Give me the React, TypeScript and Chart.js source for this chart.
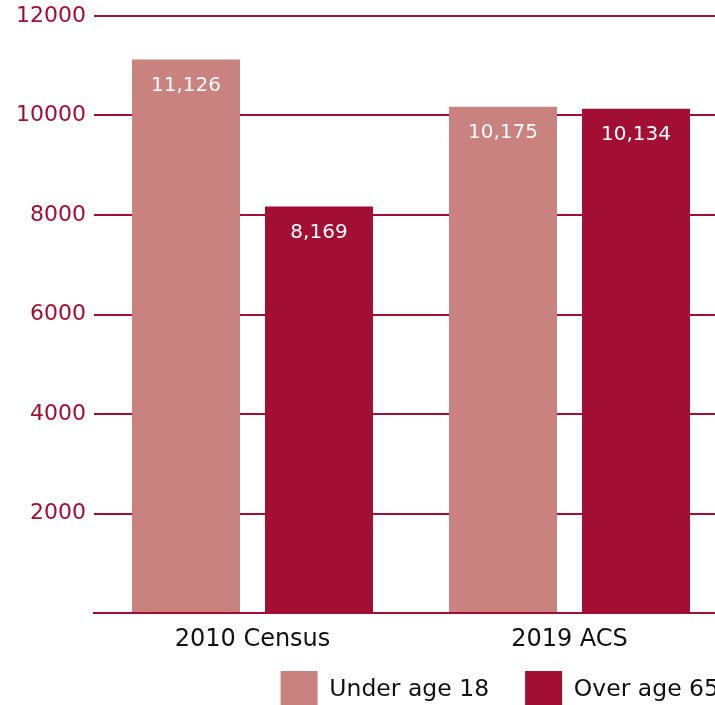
import React, { useEffect, useRef } from "react";
import { Chart, registerables } from "chart.js";

Chart.register(...registerables);

const categories = ["2010 Census", "2019 ACS"];
const seriesNames = ["Under age 18", "Over age 65"];
const underAge18 = [11126, 10175];
const overAge65 = [8169, 10134];
const yTicks = [0, 2000, 4000, 6000, 8000, 10000, 12000];

const CRIMSON = "#a30e34";
const ROSE = "#ca827f";
const FONT = "'DejaVu Sans', sans-serif";

const valueLabels = {
  id: "valueLabels",
  afterDatasetsDraw(chart: any) {
    const { ctx } = chart;
    ctx.save();
    ctx.fillStyle = "#ffffff";
    ctx.font = `20px ${FONT}`;
    ctx.textAlign = "center";
    ctx.textBaseline = "middle";
    chart.data.datasets.forEach((ds: any, i: number) => {
      const meta = chart.getDatasetMeta(i);
      meta.data.forEach((bar: any, j: number) => {
        const v = ds.data[j] as number;
        ctx.fillText(v.toLocaleString("en-US"), bar.x, bar.y + 26);
      });
    });
    ctx.restore();
  },
};

// let the x labels draw below the (short) x-axis box without being clipped
const unclipX = {
  id: "unclipX",
  afterLayout(chart: any) {
    const x = chart.scales.x;
    x.bottom = x.top + 60;
  },
};

export default function App() {
  const ref = useRef<HTMLCanvasElement | null>(null);
  useEffect(() => {
    if (!ref.current) return;
    const chart = new Chart(ref.current, {
      type: "bar",
      data: {
        labels: categories,
        datasets: [
          {
            label: seriesNames[0],
            data: underAge18,
            backgroundColor: ROSE,
            categoryPercentage: 0.839,
            barPercentage: 0.812,
          },
          {
            label: seriesNames[1],
            data: overAge65,
            backgroundColor: CRIMSON,
            categoryPercentage: 0.839,
            barPercentage: 0.812,
          },
        ],
      },
      options: {
        animation: false,
        responsive: true,
        maintainAspectRatio: false,
        layout: { padding: { top: 16, left: 0, right: 0, bottom: 0 } },
        plugins: {
          tooltip: { enabled: false },
          legend: {
            position: "bottom",
            align: "end",
            labels: {
              boxWidth: 37,
              boxHeight: 37,
              padding: 36,
              color: "#111111",
              font: { family: FONT, size: 23.5 },
            },
          },
        },
        scales: {
          x: {
            grid: { display: false },
            border: { display: true, color: CRIMSON, width: 2 },
            ticks: {
              color: "#111111",
              padding: 4,
              font: { family: FONT, size: 24 },
            },
            afterFit(scale: any) {
              scale.height = 22;
            },
          },
          y: {
            min: yTicks[0],
            max: yTicks[yTicks.length - 1],
            afterBuildTicks(scale: any) {
              scale.ticks = yTicks.map((v) => ({ value: v }));
            },
            grid: { color: CRIMSON, lineWidth: 2, drawTicks: false },
            border: { display: false },
            ticks: {
              color: CRIMSON,
              padding: 8,
              font: { family: FONT, size: 22 },
              callback: (v: any) => (Number(v) === 0 ? "" : String(v)),
            },
            afterFit(scale: any) {
              scale.width = 94;
              scale.paddingTop = 0;
              scale.paddingBottom = 0;
            },
          },
          yPad: {
            position: "right",
            display: true,
            grid: { display: false },
            border: { display: false },
            ticks: { display: false },
            afterFit(scale: any) {
              scale.width = 27;
              scale.paddingTop = 0;
              scale.paddingBottom = 0;
            },
          },
        },
      },
      plugins: [valueLabels, unclipX],
    });
    return () => chart.destroy();
  }, []);

  return (
    <div
      style={{
        position: "absolute",
        left: 0,
        top: 0,
        width: 715,
        height: 705,
        overflow: "hidden",
        background: "#fff",
      }}
    >
      <div style={{ position: "relative", width: 755, height: 718 }}>
        <canvas ref={ref} />
      </div>
    </div>
  );
}
